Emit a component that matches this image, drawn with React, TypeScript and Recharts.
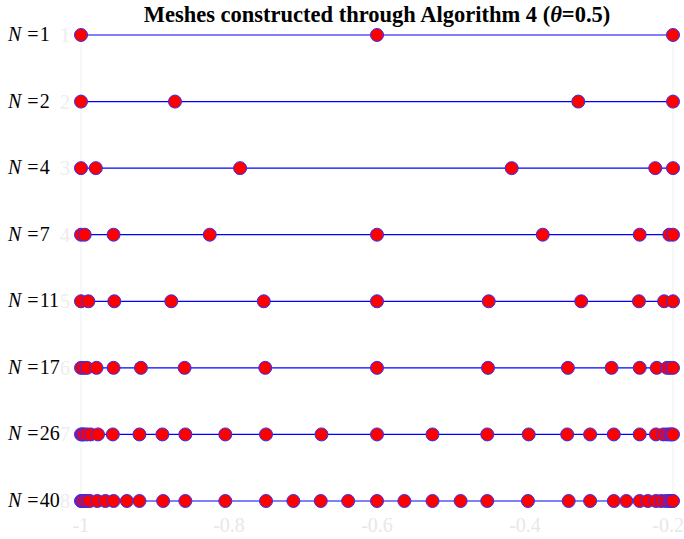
import React from "react";
import {
  ScatterChart,
  Scatter,
  XAxis,
  YAxis,
  ReferenceLine,
} from "recharts";

// mesh sizes shown on the left, one row each (top to bottom)
const N_VALUES = [1, 2, 4, 7, 11, 17, 26, 40];

// node positions, per row
const MESH_1 = [-1, -0.6, -0.2];
const MESH_2 = [-1, -0.873, -0.328, -0.2];
const MESH_4 = [-1, -0.98, -0.785, -0.418, -0.224, -0.2];
const MESH_7 = [-1, -0.995, -0.956, -0.826, -0.6, -0.376, -0.245, -0.205, -0.2];
const MESH_11 = [-1, -0.99, -0.955, -0.878, -0.753, -0.6, -0.449, -0.324, -0.246, -0.212, -0.2];
const MESH_17 = [
  -1, -0.996, -0.992, -0.979, -0.956, -0.919, -0.86, -0.751, -0.6,
  -0.45, -0.342, -0.283, -0.245, -0.222, -0.208, -0.204, -0.2,
];
const MESH_26 = [
  -1, -0.998, -0.996, -0.992, -0.987, -0.977, -0.957, -0.921, -0.89, -0.859, -0.805, -0.75, -0.675, -0.6,
  -0.525, -0.451, -0.395, -0.343, -0.312, -0.28, -0.245, -0.223, -0.213, -0.208, -0.204, -0.202, -0.2,
];
const MESH_40 = [
  -1, -0.999, -0.997, -0.994, -0.991, -0.988, -0.978, -0.967, -0.956, -0.938, -0.921, -0.889, -0.859,
  -0.805, -0.75, -0.713, -0.676, -0.639, -0.6, -0.563, -0.525, -0.487, -0.451, -0.396, -0.341,
  -0.312, -0.28, -0.263, -0.245, -0.234, -0.223, -0.216, -0.21, -0.206, -0.203, -0.201, -0.2,
];

const MESHES = [MESH_1, MESH_2, MESH_4, MESH_7, MESH_11, MESH_17, MESH_26, MESH_40];

const X_TICKS = [-1, -0.8, -0.6, -0.4, -0.2];
const ROW_TICKS = [1, 2, 3, 4, 5, 6, 7, 8];

const SERIF = "'Liberation Serif', 'Times New Roman', serif";

const Marker = (props: any) => {
  if (props.cx == null || props.cy == null) return null;
  return (
    <circle cx={props.cx} cy={props.cy} r={6.5} fill="#ff0000" stroke="#3030ff" strokeWidth={1} />
  );
};

const RowTick = (props: any) => {
  const { y, payload } = props;
  const n = N_VALUES[payload.value - 1];
  return (
    <g>
      <text x={70} y={y + 7} textAnchor="end" fill="#ededed" fontSize={20} fontFamily={SERIF}>
        {payload.value}
      </text>
      <text x={8} y={y + 6} fill="#000" fontSize={20} fontFamily={SERIF}>
        <tspan fontStyle="italic">N</tspan>
        <tspan dx={6}>=</tspan>
        <tspan dx={1}>{n}</tspan>
      </text>
    </g>
  );
};

export default function App() {
  return (
    <div style={{ position: "absolute", left: 0, top: 0, width: 684, height: 539, background: "#fff" }}>
      <div
        style={{
          position: "absolute",
          left: 0,
          top: 2,
          width: 754,
          textAlign: "center",
          fontFamily: SERIF,
          fontWeight: "bold",
          fontSize: 22.5,
          color: "#000",
          zIndex: 2,
        }}
      >
        Meshes constructed through Algorithm 4 (<i>θ</i>=0.5)
      </div>
      <ScatterChart width={684} height={539} margin={{ top: 35, right: 11, left: 0, bottom: 0 }}>
        <XAxis
          type="number"
          dataKey="x"
          domain={[-1, -0.2]}
          ticks={X_TICKS}
          height={38}
          axisLine={false}
          tickLine={false}
          tickMargin={11}
          tick={{ fill: "#e8e8e8", fontSize: 20, fontFamily: SERIF }}
        />
        <YAxis
          type="number"
          dataKey="y"
          domain={[1, 8]}
          ticks={ROW_TICKS}
          reversed
          width={81}
          axisLine={{ stroke: "#f0f0f0" }}
          tickLine={false}
          tick={<RowTick />}
        />
        <ReferenceLine x={-0.2} stroke="#f0f0f0" />
        {MESHES.map((mesh, i) => (
          <Scatter
            key={i}
            data={mesh.map((x) => ({ x, y: i + 1 }))}
            line={{ stroke: "#0000ff", strokeWidth: 1.2 }}
            lineType="joint"
            shape={<Marker />}
            isAnimationActive={false}
          />
        ))}
      </ScatterChart>
    </div>
  );
}
